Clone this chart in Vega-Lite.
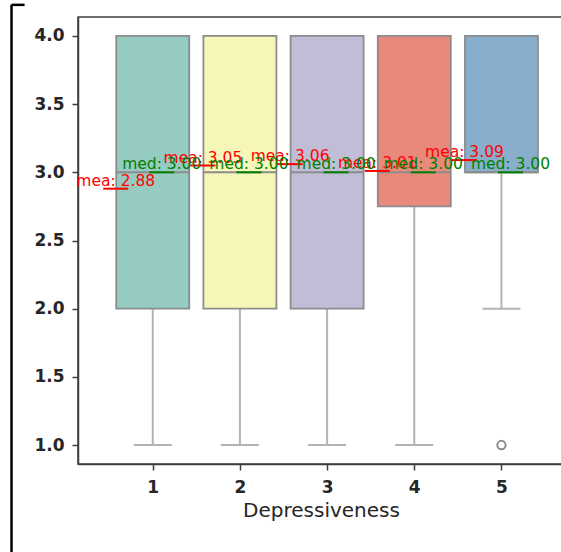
{
  "$schema": "https://vega.github.io/schema/vega-lite/v6.json",
  "autosize": "none",
  "width": 486,
  "height": 447,
  "padding": {"left": 78, "top": 17, "right": 0, "bottom": 88},
  "background": "white",
  "config": {
    "view": {"stroke": "#3d3d3d", "strokeWidth": 1.5, "fill": "white"},
    "font": "DejaVu Sans"
  },
  "datasets": {
    "boxes": [
      {"cat": 1, "lo": 1, "q1": 2, "med": 3, "q3": 4, "hi": 4, "mean": 2.88, "mean_label": "mea: 2.88", "med_label": "med: 3.00"},
      {"cat": 2, "lo": 1, "q1": 2, "med": 3, "q3": 4, "hi": 4, "mean": 3.05, "mean_label": "mea: 3.05", "med_label": "med: 3.00"},
      {"cat": 3, "lo": 1, "q1": 2, "med": 3, "q3": 4, "hi": 4, "mean": 3.06, "mean_label": "mea: 3.06", "med_label": "med: 3.00"},
      {"cat": 4, "lo": 1, "q1": 2.75, "med": 3, "q3": 4, "hi": 4, "mean": 3.01, "mean_label": "mea: 3.01", "med_label": "med: 3.00"},
      {"cat": 5, "lo": 2, "q1": 3, "med": 3, "q3": 4, "hi": 4, "mean": 3.09, "mean_label": "mea: 3.09", "med_label": "med: 3.00"}
    ],
    "outliers": [
      {"cat": 5, "val": 1}
    ],
    "frame": [
      {"fx": -0.62, "fx2": -0.47, "fytop": 4.228, "fybot": 0.2}
    ]
  },
  "data": {"name": "boxes"},
  "encoding": {
    "x": {
      "field": "cat", "type": "quantitative",
      "scale": {"domain": [0.2, 5.66], "zero": false, "nice": false},
      "axis": {
        "values": [1, 2, 3, 4, 5], "format": "d", "grid": false,
        "title": "Depressiveness", "titleFontSize": 20, "titleFontWeight": "normal",
        "titleColor": "#262626", "titlePadding": 5,
        "labelFontSize": 17, "labelFontWeight": "bold", "labelColor": "#262626", "labelPadding": 9,
        "tickSize": 6, "tickWidth": 1.5, "tickColor": "#3d3d3d",
        "domainColor": "#3d3d3d", "domainWidth": 1.5
      }
    }
  },
  "layer": [
    {
      "mark": {"type": "rule", "color": "#b3b3b3", "strokeWidth": 2},
      "encoding": {
        "y": {
          "field": "lo", "type": "quantitative",
          "scale": {"domain": [0.861, 4.139], "zero": false, "nice": false},
          "axis": {
            "values": [1, 1.5, 2, 2.5, 3, 3.5, 4], "format": ".1f", "grid": false, "title": null,
            "labelFontSize": 17, "labelFontWeight": "bold", "labelColor": "#262626", "labelPadding": 8,
            "tickSize": 6, "tickWidth": 1.5, "tickColor": "#3d3d3d",
            "domainColor": "#3d3d3d", "domainWidth": 1.5
          }
        },
        "y2": {"field": "q1"}
      }
    },
    {
      "mark": {"type": "rule", "color": "#b3b3b3", "strokeWidth": 2},
      "encoding": {
        "y": {"field": "q3", "type": "quantitative"},
        "y2": {"field": "hi"}
      }
    },
    {
      "mark": {"type": "tick", "orient": "horizontal", "color": "#b3b3b3", "size": 38, "thickness": 2, "opacity": 1},
      "encoding": {"y": {"field": "lo", "type": "quantitative"}}
    },
    {
      "mark": {"type": "tick", "orient": "horizontal", "color": "#b3b3b3", "size": 38, "thickness": 2, "opacity": 1},
      "encoding": {"y": {"field": "hi", "type": "quantitative"}}
    },
    {
      "mark": {"type": "bar", "size": 73, "stroke": "#8c8c8c", "strokeWidth": 1.8, "opacity": 1},
      "encoding": {
        "y": {"field": "q1", "type": "quantitative"},
        "y2": {"field": "q3"},
        "color": {
          "field": "cat", "type": "nominal", "legend": null,
          "scale": {"domain": [1, 2, 3, 4, 5], "range": ["#95cbc0", "#f6f6b9", "#c0bdd7", "#e8897c", "#88aecb"]}
        }
      }
    },
    {
      "mark": {"type": "tick", "orient": "horizontal", "color": "#8c8c8c", "size": 73, "thickness": 2, "opacity": 1},
      "encoding": {"y": {"field": "med", "type": "quantitative"}}
    },
    {
      "data": {"name": "outliers"},
      "mark": {"type": "point", "shape": "circle", "filled": false, "stroke": "#8c8c8c", "strokeWidth": 2, "size": 70, "opacity": 1},
      "encoding": {
        "x": {"field": "cat", "type": "quantitative"},
        "y": {"field": "val", "type": "quantitative"}
      }
    },
    {
      "mark": {"type": "tick", "orient": "horizontal", "color": "red", "size": 25, "thickness": 2, "opacity": 1, "xOffset": -37},
      "encoding": {"y": {"field": "mean", "type": "quantitative"}}
    },
    {
      "mark": {"type": "tick", "orient": "horizontal", "color": "green", "size": 25, "thickness": 2, "opacity": 1, "xOffset": 9},
      "encoding": {"y": {"field": "med", "type": "quantitative"}}
    },
    {
      "mark": {"type": "text", "color": "red", "fontSize": 15.5, "align": "center", "baseline": "bottom", "dx": -37},
      "encoding": {
        "y": {"field": "mean", "type": "quantitative"},
        "text": {"field": "mean_label"}
      }
    },
    {
      "mark": {"type": "text", "color": "green", "fontSize": 15.5, "align": "center", "baseline": "bottom", "dx": 9},
      "encoding": {
        "y": {"field": "med", "type": "quantitative"},
        "text": {"field": "med_label"}
      }
    },
    {
      "data": {"name": "frame"},
      "mark": {"type": "rule", "color": "black", "strokeWidth": 2.5},
      "encoding": {
        "x": {"field": "fx", "type": "quantitative"},
        "y": {"field": "fytop", "type": "quantitative"},
        "y2": {"field": "fybot"}
      }
    },
    {
      "data": {"name": "frame"},
      "mark": {"type": "rule", "color": "black", "strokeWidth": 2.5},
      "encoding": {
        "x": {"field": "fx", "type": "quantitative"},
        "x2": {"field": "fx2"},
        "y": {"field": "fytop", "type": "quantitative"}
      }
    }
  ]
}
